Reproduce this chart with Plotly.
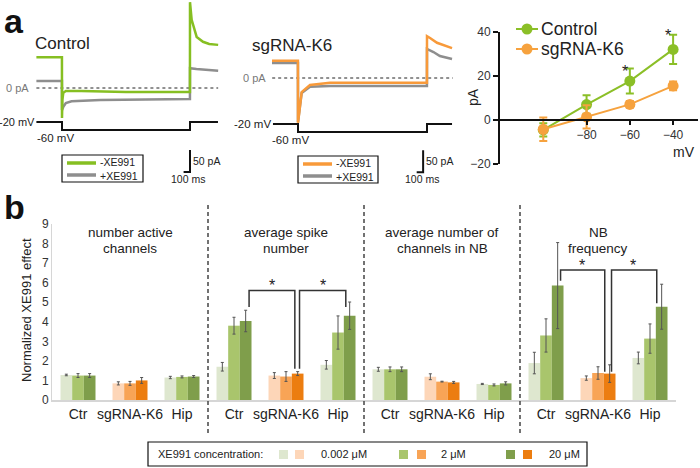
import plotly.graph_objects as go

W, H = 700, 468
FONT = "Liberation Sans, Arial, sans-serif"


def px(x):
    return x / W


def py(y):
    return 1 - y / H


# ---------------- Panel a : current traces ----------------
# Control (time in ms, current in pA)
ctrl_minus_t = [-400, -1, 0, 6, 20, 60, 300, 1000, 1999, 2000, 2026, 2104, 2203, 2300, 2440]
ctrl_minus_pA = [70, 70, -68, -27, -11, -7, -7, -9, -9, 195, 155, 116, 105, 100, 98]
ctrl_plus_t = [-400, -1, 0, 20, 60, 150, 600, 1999, 2000, 2100, 2440]
ctrl_plus_pA = [16, 16, -50, -43, -34, -30, -27, -25, 45, 43, 39]
ctrl_volt_t = [-400, 0, 0, 2000, 2000, 2437]
ctrl_volt_mV = [-20, -20, -60, -60, -20, -20]
ctrl_zero_t = [-400, 2440]

# sgRNA-K6
sg_minus_t = [-403, -1, 0, 57, 186, 496, 1999, 2000, 2047, 2155, 2388]
sg_minus_pA = [39, 39, -102, -32, -16, -11, -11, 95, 91, 80, 68]
sg_plus_t = [-403, -1, 0, 57, 186, 496, 1999, 2000, 2100, 2200, 2388]
sg_plus_pA = [34, 34, -100, -34, -20, -18, -18, 66, 59, 50, 43]
sg_volt_t = [-388, 0, 0, 2000, 2000, 2388]
sg_volt_mV = [-20, -20, -60, -60, -20, -20]
sg_zero_t = [-400, 2400]

# ---------------- Panel a : I-V plot ----------------
iv_mV = [-100, -80, -60, -40]
iv_ctrl = [-4.5, 7.0, 17.7, 32.1]
iv_ctrl_err = [3.0, 4.2, 5.7, 6.7]
iv_sg = [-4.2, 1.4, 7.1, 15.5]
iv_sg_err = [5.3, 5.3, 1.5, 2.0]
iv_star_x = [-60, -40]
iv_star_y = [27, 43]

# ---------------- Panel b : bars ----------------
group_labels = ["Ctr", "sgRNA-K6", "Hip"] * 4
group_pos = list(range(12))
panel_titles = [("number active", "channels"), ("average spike", "number"),
                ("average number of", "channels in NB"), ("NB", "frequency")]
panel_title_pos = [1, 4, 7, 10]
conc_labels = ["0.002 μM", "2 μM", "20 μM"]
vals_low = [1.28, 0.85, 1.15, 1.70, 1.25, 1.80, 1.57, 1.19, 0.82, 1.89, 1.12, 2.15]
err_low = [0.04, 0.08, 0.06, 0.22, 0.15, 0.22, 0.10, 0.15, 0.03, 0.55, 0.11, 0.30]
vals_mid = [1.25, 0.85, 1.18, 3.80, 1.20, 3.45, 1.57, 0.94, 0.77, 3.30, 1.38, 3.14]
err_mid = [0.10, 0.10, 0.05, 0.43, 0.25, 0.85, 0.12, 0.02, 0.05, 0.85, 0.32, 0.75]
vals_high = [1.25, 1.00, 1.20, 4.04, 1.35, 4.31, 1.57, 0.90, 0.85, 5.85, 1.35, 4.77]
err_high = [0.10, 0.15, 0.05, 0.55, 0.10, 0.70, 0.12, 0.05, 0.08, 2.20, 0.45, 1.15]
bracket_x = [[3.29, 3.29, 4.17, 4.17], [4.26, 4.26, 5.15, 5.15],
             [9.28, 9.28, 10.13, 10.13], [10.26, 10.26, 11.13, 11.13]]
bracket_y = [[4.75, 5.6, 5.6, 1.6], [1.6, 5.6, 5.6, 4.75],
             [6.1, 6.65, 6.65, 1.45], [1.45, 6.65, 6.65, 4.95]]
star_x = [3.73, 4.71, 9.7, 10.67]
star_y = [5.85, 5.85, 6.9, 6.9]
dividers = [2.5, 5.5, 8.5]

GREEN = ["#dee7cf", "#a9c56c", "#7f9e4b"]
ORANGE = ["#fdd6b8", "#f8a456", "#ec7d10"]
TR_GREEN = "#86bf22"
TR_ORANGE = "#f89a3a"
TR_GRAY = "#8e8e8e"
IV_GREEN = "#8bbf27"
IV_ORANGE = "#f6a23e"

# IV axis geometry (pixels)
IV_X0, IV_X1, IV_XR = 500, 698, (-120, -28.5)
IV_Y0, IV_Y1, IV_YR = 164, 32, (-20, 40)


def iv_paper_x(v):
    return px(IV_X0 + (v - IV_XR[0]) / (IV_XR[1] - IV_XR[0]) * (IV_X1 - IV_X0))


def iv_paper_y(v):
    return py(IV_Y0 - (v - IV_YR[0]) / (IV_YR[1] - IV_YR[0]) * (IV_Y0 - IV_Y1))


fig = go.Figure()

# --- bars
for k, (vals, errs) in enumerate([(vals_low, err_low), (vals_mid, err_mid), (vals_high, err_high)]):
    colors = [ORANGE[k] if lab == "sgRNA-K6" else GREEN[k] for lab in group_labels]
    fig.add_trace(go.Bar(
        x=group_pos, y=vals, name=conc_labels[k], marker=dict(color=colors, line=dict(width=0)),
        error_y=dict(type="data", array=errs, color="#555555", thickness=1, width=1.5),
        showlegend=False, xaxis="x", yaxis="y"))

for bx, by in zip(bracket_x, bracket_y):
    fig.add_trace(go.Scatter(x=bx, y=by, mode="lines", line=dict(color="#333333", width=1.5),
                             showlegend=False, hoverinfo="skip", xaxis="x", yaxis="y"))

# --- current traces: control
fig.add_trace(go.Scatter(x=ctrl_zero_t, y=[0, 0], mode="lines", line=dict(color="#222", width=1, dash="dot"),
                         showlegend=False, xaxis="x2", yaxis="y2"))
fig.add_trace(go.Scatter(x=ctrl_plus_t, y=ctrl_plus_pA, mode="lines", line=dict(color=TR_GRAY, width=2.5),
                         showlegend=False, xaxis="x2", yaxis="y2"))
fig.add_trace(go.Scatter(x=ctrl_minus_t, y=ctrl_minus_pA, mode="lines", line=dict(color=TR_GREEN, width=2.5),
                         showlegend=False, xaxis="x2", yaxis="y2"))
fig.add_trace(go.Scatter(x=ctrl_volt_t, y=ctrl_volt_mV, mode="lines", line=dict(color="#111", width=2),
                         showlegend=False, xaxis="x2", yaxis="y6"))
# scale bar control (50 pA, 100 ms)
fig.add_trace(go.Scatter(x=[1900, 2000, 2000], y=[-191, -191, -141], mode="lines",
                         line=dict(color="#111", width=2), showlegend=False, xaxis="x2", yaxis="y2"))

# --- current traces: sgRNA
fig.add_trace(go.Scatter(x=sg_zero_t, y=[0, 0], mode="lines", line=dict(color="#222", width=1, dash="dot"),
                         showlegend=False, xaxis="x3", yaxis="y3"))
fig.add_trace(go.Scatter(x=sg_plus_t, y=sg_plus_pA, mode="lines", line=dict(color=TR_GRAY, width=2.5),
                         showlegend=False, xaxis="x3", yaxis="y3"))
fig.add_trace(go.Scatter(x=sg_minus_t, y=sg_minus_pA, mode="lines", line=dict(color=TR_ORANGE, width=2.5),
                         showlegend=False, xaxis="x3", yaxis="y3"))
fig.add_trace(go.Scatter(x=sg_volt_t, y=sg_volt_mV, mode="lines", line=dict(color="#111", width=2),
                         showlegend=False, xaxis="x3", yaxis="y7"))
fig.add_trace(go.Scatter(x=[1840, 1940, 1940], y=[-214, -214, -164], mode="lines",
                         line=dict(color="#111", width=2), showlegend=False, xaxis="x3", yaxis="y3"))

# --- IV plot
fig.add_trace(go.Scatter(x=iv_mV, y=iv_ctrl, name="Control", mode="lines+markers",
                         line=dict(color=IV_GREEN, width=2), marker=dict(size=11, color=IV_GREEN),
                         error_y=dict(type="data", array=iv_ctrl_err, color=IV_GREEN, thickness=2, width=4),
                         xaxis="x4", yaxis="y4", showlegend=False, cliponaxis=False))
fig.add_trace(go.Scatter(x=iv_mV, y=iv_sg, name="sgRNA-K6", mode="lines+markers",
                         line=dict(color=IV_ORANGE, width=2), marker=dict(size=11, color=IV_ORANGE),
                         error_y=dict(type="data", array=iv_sg_err, color=IV_ORANGE, thickness=2, width=4),
                         xaxis="x4", yaxis="y4", showlegend=False, cliponaxis=False))

annotations = []


def ann(text, x, y, size=12, color="#222", xanchor="center", yanchor="middle", **kw):
    d = dict(text=text, x=px(x), y=py(y), xref="paper", yref="paper", showarrow=False,
             font=dict(size=size, color=color, family=FONT), xanchor=xanchor, yanchor=yanchor,
             borderpad=0)
    d.update(kw)
    return d


# panel labels
annotations.append(ann("<b>a</b>", 3, 21, size=34, color="#111", xanchor="left"))
annotations.append(ann("<b>b</b>", 3, 207, size=34, color="#111", xanchor="left"))

# trace panel texts
annotations.append(ann("Control", 34, 43, size=17, xanchor="left"))
annotations.append(ann("sgRNA-K6", 251, 46, size=17, xanchor="left"))
annotations.append(ann("0 pA", 17, 88, size=11, color="#777"))
annotations.append(ann("0 pA", 254, 78, size=11, color="#777"))
annotations.append(ann("-20 mV", 35.5, 122, size=11, xanchor="right"))
annotations.append(ann("-60 mV", 36, 138, size=11.5, xanchor="left"))
annotations.append(ann("-20 mV", 272, 124, size=11.5, xanchor="right"))
annotations.append(ann("-60 mV", 271, 140, size=11.5, xanchor="left"))
annotations.append(ann("50 pA", 192, 161, size=10.5, xanchor="left"))
annotations.append(ann("100 ms", 188, 179, size=10.5))
annotations.append(ann("50 pA", 425, 161, size=10.5, xanchor="left"))
annotations.append(ann("100 ms", 422, 179, size=10.5))
annotations.append(ann("-XE991<br>+XE991", 99, 169, size=10.5, xanchor="left", align="left"))
annotations.append(ann("-XE991<br>+XE991", 335, 170, size=10.5, xanchor="left", align="left"))

# IV texts
annotations.append(ann("pA", 473, 97, size=14, textangle=-90))
annotations.append(ann("mV", 684, 152, size=14))
annotations.append(ann("Control", 540, 29, size=17.5, xanchor="left"))
annotations.append(ann("sgRNA-K6", 540, 49, size=17.5, xanchor="left"))
for sx, sy in zip(iv_star_x, iv_star_y):
    annotations.append(dict(text="*", x=iv_paper_x(sx), y=iv_paper_y(sy), xref="paper", yref="paper",
                            showarrow=False, font=dict(size=16, color="#222", family=FONT)))

# bar chart texts
for (l1, l2), gx in zip(panel_titles, panel_title_pos):
    annotations.append(dict(text=l1, x=gx, y=py(232), xref="x", yref="paper", showarrow=False,
                            font=dict(size=13.5, color="#222", family=FONT), borderpad=0))
    annotations.append(dict(text=l2, x=gx, y=py(248), xref="x", yref="paper", showarrow=False,
                            font=dict(size=13.5, color="#222", family=FONT), borderpad=0))
for sx, sy in zip(star_x, star_y):
    annotations.append(dict(text="*", x=sx, y=sy, xref="x", yref="y", showarrow=False,
                            font=dict(size=16, color="#222", family=FONT)))
annotations.append(ann("Normalized XE991 effect", 26, 310, size=13, textangle=-90))

# bottom legend
annotations.append(ann("XE991 concentration:", 157, 454, size=11, xanchor="left"))
annotations.append(ann(conc_labels[0], 320, 454, size=11, xanchor="left"))
annotations.append(ann(conc_labels[1], 440, 454, size=11, xanchor="left"))
annotations.append(ann(conc_labels[2], 548, 454, size=11, xanchor="left"))

shapes = []
for dx in dividers:
    shapes.append(dict(type="line", xref="x", yref="paper", x0=dx, x1=dx, y0=py(205), y1=py(433),
                       line=dict(color="#444", width=1.5, dash="4px,3px")))


def rect(x0, y0, x1, y1, fill="rgba(0,0,0,0)", line_color="#111", lw=1.2):
    return dict(type="rect", xref="paper", yref="paper", x0=px(x0), x1=px(x1), y0=py(y1), y1=py(y0),
                fillcolor=fill, line=dict(color=line_color, width=lw))


def hline(x0, x1, y, color, lw):
    return dict(type="line", xref="paper", yref="paper", x0=px(x0), x1=px(x1), y0=py(y), y1=py(y),
                line=dict(color=color, width=lw))


def circle(cx, cy, r, color):
    return dict(type="circle", xref="paper", yref="paper", x0=px(cx - r), x1=px(cx + r),
                y0=py(cy + r), y1=py(cy - r), fillcolor=color, line=dict(color=color, width=0))


# trace legends
shapes.append(rect(62, 155, 143, 182))
shapes.append(hline(67, 96, 163, TR_GREEN, 3.5))
shapes.append(hline(67, 96, 175, TR_GRAY, 3.5))
shapes.append(rect(298, 156, 378, 183))
shapes.append(hline(303, 332, 164, TR_ORANGE, 3.5))
shapes.append(hline(303, 332, 176, TR_GRAY, 3.5))

# IV legend
shapes.append(hline(516, 538, 29, IV_GREEN, 2))
shapes.append(circle(527, 29, 5.5, IV_GREEN))
shapes.append(hline(516, 538, 49, IV_ORANGE, 2))
shapes.append(circle(527, 49, 5.5, IV_ORANGE))

# bottom legend
shapes.append(rect(148, 442, 587, 466))
sw = [(279, GREEN[0]), (295, ORANGE[0]), (399, GREEN[1]), (417, ORANGE[1]), (506, GREEN[2]), (523, ORANGE[2])]
for x0, c in sw:
    shapes.append(rect(x0, 450, x0 + 9, 459, fill=c, line_color=c, lw=0))

fig.update_layout(
    width=W, height=H, margin=dict(l=0, r=0, t=0, b=0),
    paper_bgcolor="white", plot_bgcolor="white",
    font=dict(family=FONT, color="#222"),
    barmode="group", bargap=0.327, bargroupgap=0,
    annotations=annotations, shapes=shapes, showlegend=False,
    xaxis=dict(domain=[px(52), px(676)], range=[-0.5, 11.5], tickvals=group_pos, ticktext=group_labels,
               showline=True, linecolor="#d6d6d6", linewidth=1.5, ticks="", showgrid=False, zeroline=False,
               tickfont=dict(size=14, color="#222"), automargin=False, anchor="y"),
    yaxis=dict(domain=[py(400), py(224)], range=[0, 9], tickvals=list(range(10)),
               showline=True, linecolor="#d6d6d6", linewidth=1, ticks="", showgrid=False, zeroline=False,
               tickfont=dict(size=12, color="#333"), automargin=False, anchor="x"),
    xaxis2=dict(domain=[px(35), px(220)], range=[(35 - 62) / 0.064, (220 - 62) / 0.064], visible=False,
                anchor="y2"),
    yaxis2=dict(domain=[py(190), py(0)], range=[-231.8, 200], visible=False, anchor="x2"),
    yaxis6=dict(overlaying="y2", range=[-360, 590], visible=False, anchor="x2"),
    xaxis3=dict(domain=[px(230), px(460)], range=[(230 - 298) / 0.0645, (460 - 298) / 0.0645], visible=False,
                anchor="y3"),
    yaxis3=dict(domain=[py(190), py(0)], range=[-254.6, 177.3], visible=False, anchor="x3"),
    yaxis7=dict(overlaying="y3", range=[-350, 600], visible=False, anchor="x3"),
    xaxis4=dict(domain=[px(IV_X0), px(IV_X1)], range=list(IV_XR), anchor="free", position=iv_paper_y(0),
                tickvals=[-80, -60, -40], showline=True, linecolor="#111", linewidth=2, ticks="outside",
                ticklen=4, tickwidth=1.5, tickcolor="#111", showgrid=False, zeroline=False,
                tickfont=dict(size=12, color="#333"), automargin=False),
    yaxis4=dict(domain=[py(IV_Y0), py(IV_Y1)], range=list(IV_YR), anchor="x4", tickvals=[-20, 0, 20, 40],
                showline=True, linecolor="#111", linewidth=2, ticks="outside", ticklen=5, tickwidth=1.5,
                tickcolor="#111", showgrid=False, zeroline=False, tickfont=dict(size=12, color="#333"),
                automargin=False),
)

fig.write_html("out.html", config={"displayModeBar": False},
               post_script="document.body.style.margin='0';")
